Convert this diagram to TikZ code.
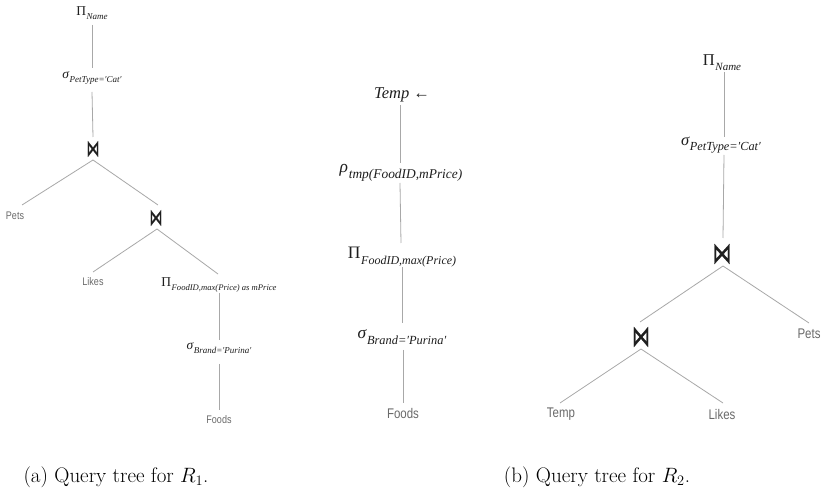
\documentclass[tikz,border=0pt]{standalone}
\usepackage{fontspec}
\usepackage{graphicx}
\usetikzlibrary{calc}
\newfontfamily\tms{Liberation Serif}
\newfontfamily\lblf[FakeStretch=0.82]{Liberation Sans}
\newfontfamily\bowf[FakeBold=1.2]{DejaVu Sans}
\definecolor{edgegray}{HTML}{A8A8A8}
\definecolor{lblgray}{HTML}{6A6A6A}
\definecolor{mathink}{HTML}{1E1E1E}
% #1 main size, #2 sub size, #3 operator, #4 subscript
\newcommand\qop[4]{{\tms\fontsize{#1pt}{#1pt}\selectfont #3\kern0.04em\raisebox{-0.32em}{\fontsize{#2pt}{#2pt}\selectfont\itshape #4}}}
% #1 width, #2 height
\newcommand\bowt[2]{\resizebox{#1pt}{#2pt}{\bowf ⋈}}
\tikzset{
  opnode/.style={inner sep=0pt, text=mathink},
  lblnode/.style={inner sep=0pt, text=lblgray},
  bownode/.style={inner sep=0pt, text=black!88},
  edge/.style={draw=edgegray, line width=0.8pt},
  capnode/.style={inner sep=0pt, text=black, font=\fontsize{21pt}{24pt}\selectfont}
}
\begin{document}
\begin{tikzpicture}[x=1pt,y=-1pt]
\fill[white] (0,0) rectangle (823,494);
\useasboundingbox (0,0) rectangle (823,494);

% ---------- (a) left tree ----------
\node[opnode] (lpi)   at (92,13)  {\qop{13.5}{9}{Π}{Name}};
\node[opnode] (lsig)  at (92,78)  {\qop{13.5}{9}{\itshape σ}{PetType=′Cat′}};
\node[bownode] (lj1)  at (93,149) {\bowt{13}{15}};
\node[lblnode,font=\lblf\fontsize{11pt}{11pt}\selectfont] (lpets) at (15,216) {Pets};
\node[bownode] (lj2)  at (156,218) {\bowt{13}{15}};
\node[lblnode,font=\lblf\fontsize{11pt}{11pt}\selectfont] (llikes) at (93,282) {Likes};
\node[opnode] (lpi2)  at (219,285) {\qop{13.5}{8.6}{Π}{FoodID,max(Price) as mPrice}};
\node[opnode] (lsig2) at (219,348) {\qop{13.5}{9}{\itshape σ}{Brand=′Purina′}};
\node[lblnode,font=\lblf\fontsize{11pt}{11pt}\selectfont] (lfoods) at (219,420) {Foods};

\draw[edge] ($(lpi)+(0,12)$) -- ($(lsig)+(0,-10)$);
\draw[edge] ($(lsig)+(0,14)$) -- ($(lj1)+(0,-12)$);
\draw[edge] ($(lj1)+(0,11)$) -- ($(lpets)+(7,-11)$);
\draw[edge] ($(lj1)+(0,11)$) -- ($(lj2)+(2,-13)$);
\draw[edge] ($(lj2)+(1,11)$) -- ($(llikes)+(0,-10)$);
\draw[edge] ($(lj2)+(1,11)$) -- ($(lpi2)+(-1,-11)$);
\draw[edge] ($(lpi2)+(0,8)$) -- ($(lsig2)+(0,-8)$);
\draw[edge] ($(lsig2)+(0,16)$) -- ($(lfoods)+(0,-10)$);

% ---------- middle tree ----------
\node[opnode] (mtemp) at (402,95) {{\tms\fontsize{16.5pt}{16.5pt}\selectfont\itshape Temp\/ \upshape ←}};
\node[opnode] (mrho)  at (401,173) {\qop{17.5}{13.4}{\itshape ρ}{tmp(FoodID,mPrice)}};
\node[opnode] (mpi)   at (402,257) {\qop{17.5}{12}{Π}{FoodID,max(Price)}};
\node[opnode] (msig)  at (402,337) {\qop{17.5}{12.4}{\itshape σ}{Brand=′Purina′}};
\node[lblnode,font=\lblf\fontsize{14pt}{14pt}\selectfont] (mfoods) at (403,413) {Foods};

\draw[edge] ($(mtemp)+(-2,10)$) -- ($(mrho)+(-1,-10)$);
\draw[edge] ($(mrho)+(-1,10)$) -- ($(mpi)+(-1,-14)$);
\draw[edge] ($(mpi)+(0,10)$) -- ($(msig)+(0,-14)$);
\draw[edge] ($(msig)+(1,13)$) -- ($(mfoods)+(0,-10)$);

% ---------- (b) right tree ----------
\node[opnode] (rpi)   at (722,63)  {\qop{16.5}{11}{Π}{Name}};
\node[opnode] (rsig)  at (721,145) {\qop{16.5}{12.3}{\itshape σ}{PetType=′Cat′}};
\node[bownode] (rj1)  at (722,254) {\bowt{19}{19}};
\node[lblnode,font=\lblf\fontsize{14pt}{14pt}\selectfont] (rpets) at (809,334) {Pets};
\node[bownode] (rj2)  at (641,337) {\bowt{18}{19}};
\node[lblnode,font=\lblf\fontsize{14pt}{14pt}\selectfont] (rtemp) at (561,414) {Temp};
\node[lblnode,font=\lblf\fontsize{14pt}{14pt}\selectfont] (rlikes) at (722,414) {Likes};

\draw[edge] ($(rpi)+(2,9)$) -- ($(rsig)+(3,-8)$);
\draw[edge] ($(rsig)+(3,10)$) -- ($(rj1)+(1,-16)$);
\draw[edge] ($(rj1)+(1,12)$) -- ($(rj2)+(-1,-15)$);
\draw[edge] ($(rj1)+(1,12)$) -- ($(rpets)+(0,-11)$);
\draw[edge] ($(rj2)+(0,12)$) -- ($(rtemp)+(-1,-11)$);
\draw[edge] ($(rj2)+(0,12)$) -- ($(rlikes)+(1,-11)$);

% ---------- captions ----------
\node[capnode] (capa) at (116,477) {(a) Query tree for $R_1$.};
\node[capnode] (capb) at (597,477) {(b) Query tree for $R_2$.};
\end{tikzpicture}
\end{document}
